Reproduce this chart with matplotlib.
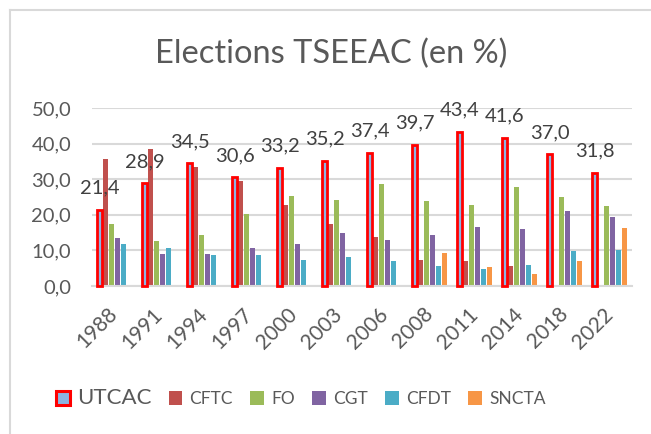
import matplotlib.pyplot as plt
from matplotlib.lines import Line2D
from matplotlib.patches import Patch
import numpy as np

plt.rcParams['font.family'] = ['Lato', 'DejaVu Sans']

years = ['1988', '1991', '1994', '1997', '2000', '2003', '2006',
         '2008', '2011', '2014', '2018', '2022']
utcac = [21.4, 28.9, 34.5, 30.6, 33.2, 35.2, 37.4, 39.7, 43.4, 41.6, 37.0, 31.8]
cftc = [35.7, 38.6, 33.3, 29.6, 22.8, 17.5, 13.8, 7.3, 7.0, 5.5, 0, 0]
fo = [17.5, 12.6, 14.4, 20.3, 25.2, 24.2, 28.6, 23.9, 22.7, 27.9, 24.9, 22.6]
cgt = [13.5, 9.1, 9.1, 10.8, 11.8, 15.0, 13.0, 14.3, 16.6, 16.0, 21.1, 19.4]
cfdt = [11.9, 10.8, 8.8, 8.6, 7.2, 8.1, 7.0, 5.5, 4.8, 5.9, 9.9, 10.1]
sncta = [0, 0, 0, 0, 0, 0, 0, 9.3, 5.4, 3.4, 7.1, 16.3]

others = [('CFTC', cftc, '#C0504D'), ('FO', fo, '#9BBB59'),
          ('CGT', cgt, '#8064A2'), ('CFDT', cfdt, '#4BACC6'),
          ('SNCTA', sncta, '#F79646')]

grey = '#595959'
fig = plt.figure(figsize=(6.51, 4.34), dpi=100)
ax = fig.add_axes([0.1413, 0.341, 0.8297, 0.41])

x = np.arange(len(years))
w = 0.133

ax.bar(x - 2.5 * w, utcac, w * 0.72, color='#8DB4E2', edgecolor='#FF0000',
       linewidth=2.0, zorder=3, clip_on=False)
for k, (name, vals, col) in enumerate(others):
    ax.bar(x + (k - 1.5) * w, vals, w * 0.92, color=col, zorder=2)

for xi, v in zip(x - 2.5 * w, utcac):
    ax.annotate(f'{v:.1f}'.replace('.', ','), (xi, v), xytext=(0, 9.5),
                textcoords='offset points', ha='center', va='bottom',
                fontsize=14.5, color='#404040', annotation_clip=False)

ax.set_xlim(-0.5, len(years) - 0.5)
ax.set_ylim(0, 50)
ax.set_yticks(range(0, 51, 10))
ax.set_yticklabels([f'{t},0' for t in range(0, 51, 10)])
ax.set_xticks(x)
ax.set_xticklabels(years, rotation=45, ha='right', va='center',
                   rotation_mode='anchor')
ax.tick_params(axis='both', length=0, labelsize=14.5, labelcolor=grey)
ax.tick_params(axis='x', labelsize=15, pad=18)
ax.tick_params(axis='y', pad=15)
ax.yaxis.grid(True, color='#D9D9D9', linewidth=1.5, zorder=0)
ax.set_axisbelow(True)
for s in ['top', 'right', 'left']:
    ax.spines[s].set_visible(False)
ax.spines['bottom'].set_color('#D9D9D9')
ax.spines['bottom'].set_linewidth(1.5)

fig.text(0.508, 0.876, 'Elections TSEEAC (en %)', ha='center', va='center',
         fontsize=23.5, color=grey)

handles = [Patch(facecolor='#8DB4E2', edgecolor='#FF0000', linewidth=2.2)]
handles += [Patch(facecolor=c) for _, _, c in others]
labels = ['UTCAC'] + [n for n, _, _ in others]
leg = fig.legend(handles, labels, loc='center', bbox_to_anchor=(0.462, 0.083),
                 ncol=6, frameon=False, fontsize=12.5, handlelength=0.8,
                 handleheight=0.8, handletextpad=0.4, columnspacing=1.0)
for t in leg.get_texts():
    t.set_color(grey)
leg.get_texts()[0].set_fontsize(16)

# chart frame (top and left edges visible)
fig.add_artist(Line2D([10 / 651, 10 / 651], [0, 1 - 10 / 434], color='#D9D9D9', linewidth=1.5))
fig.add_artist(Line2D([10 / 651, 1], [1 - 10 / 434, 1 - 10 / 434], color='#D9D9D9', linewidth=1.5))

fig.savefig('out.png', dpi=100)
